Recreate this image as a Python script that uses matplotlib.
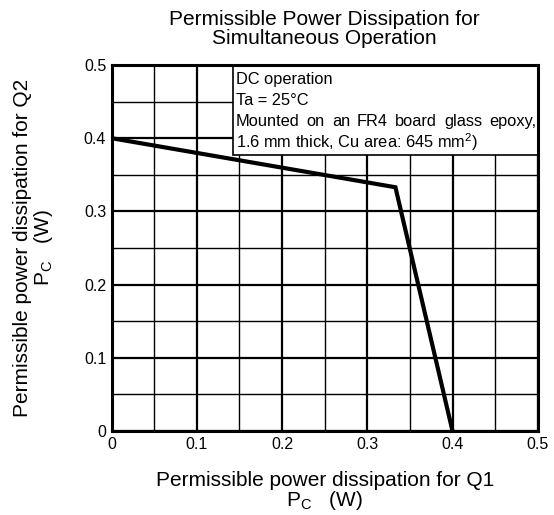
import matplotlib
matplotlib.use("Agg")
import matplotlib.pyplot as plt
from matplotlib.patches import Rectangle
import numpy as np

plt.rcParams["font.family"] = ["Liberation Sans", "DejaVu Sans"]
plt.rcParams["mathtext.fontset"] = "custom"
plt.rcParams["mathtext.rm"] = "Liberation Sans"
plt.rcParams["mathtext.it"] = "Liberation Sans:italic"

# derating curve: Q1 power vs Q2 power (W)
pc_q1 = [0.0, 0.333, 0.4]
pc_q2 = [0.4, 0.333, 0.0]

x_ticks = [0, 0.1, 0.2, 0.3, 0.4, 0.5]
y_ticks = [0, 0.1, 0.2, 0.3, 0.4, 0.5]
tick_labels = ["0", "0.1", "0.2", "0.3", "0.4", "0.5"]

notes = ["DC operation",
         "Ta = 25\u00b0C",
         "Mounted on an FR4 board glass epoxy,",
         "1.6 mm thick, Cu area: 645 mm$^2$)"]

fig = plt.figure(figsize=(5.54, 5.15), dpi=100)
ax = fig.add_axes([0.2016, 0.163, 0.7690, 0.7108])

ax.set_xlim(0, 0.5)
ax.set_ylim(0, 0.5)
ax.set_xticks(x_ticks)
ax.set_xticklabels(tick_labels)
ax.set_yticks(y_ticks)
ax.set_yticklabels(tick_labels)
ax.set_xticks(np.arange(0.05, 0.5, 0.1), minor=True)
ax.set_yticks(np.arange(0.05, 0.5, 0.1), minor=True)
ax.tick_params(which="both", length=0, labelsize=11.5, pad=4)
ax.grid(which="major", color="black", linewidth=1.6)
ax.grid(which="minor", color="black", linewidth=1.0)
ax.set_axisbelow(True)
for s in ax.spines.values():
    s.set_linewidth(2.2)
    s.set_zorder(5)

ax.plot(pc_q1, pc_q2, color="black", linewidth=3.0, solid_joinstyle="miter", zorder=4)

# condition box
box_x0, box_y0 = 0.1427, 0.377
ax.add_patch(Rectangle((box_x0, box_y0), 0.5 - box_x0, 0.5 - box_y0, facecolor="white",
                       edgecolor="black", linewidth=1.2, zorder=3))
text_x = 0.1455
line_y = [0.4805 - i * 0.0287 for i in range(len(notes))]
renderer = fig.canvas.get_renderer()
for i, line in enumerate(notes):
    if i != 2:
        ax.text(text_x, line_y[i], line, fontsize=11.8, va="center", ha="left", zorder=4)
        continue
    # justified line, spread words up to the right border
    words = line.split()
    arts = [ax.text(0, line_y[i], w, fontsize=11.8, va="center", ha="left", zorder=4) for w in words]
    widths = [a.get_window_extent(renderer).width for a in arts]
    x0 = ax.transData.transform((text_x, 0))[0]
    x1 = ax.transData.transform((0.4985, 0))[0]
    gap = (x1 - x0 - sum(widths)) / (len(words) - 1)
    xp = x0
    for a, w in zip(arts, widths):
        a.set_x(ax.transData.inverted().transform((xp, 0))[0])
        xp += w + gap

fig.text(0.5855, 0.980, "Permissible Power Dissipation for\nSimultaneous Operation",
         ha="center", va="top", fontsize=15, linespacing=0.95)
ax.set_xlabel("Permissible power dissipation for Q1\nP$_\\mathrm{C}$   (W)", fontsize=15,
              linespacing=0.95, labelpad=14)
ax.set_ylabel("Permissible power dissipation for Q2\nP$_\\mathrm{C}$   (W)", fontsize=15,
              linespacing=0.95, labelpad=21)

fig.savefig("out.png", dpi=100)
